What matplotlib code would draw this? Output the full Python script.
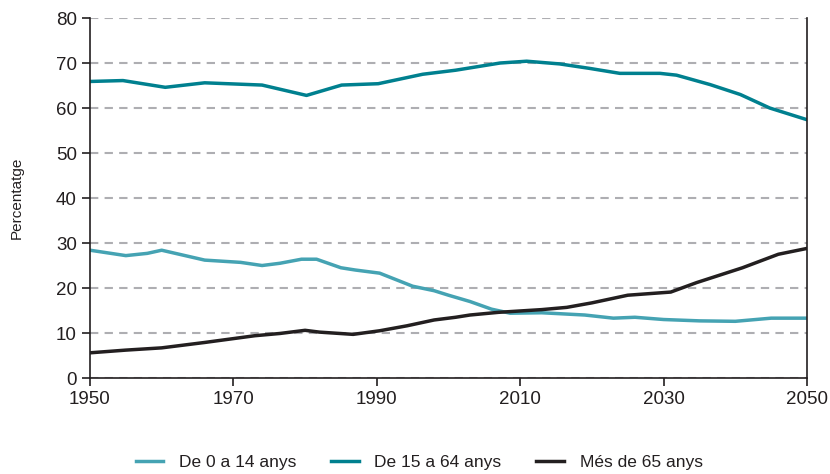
import numpy as np
import matplotlib.pyplot as plt

plt.rcParams['font.family'] = ['Liberation Sans', 'DejaVu Sans']

# Dades llegides del grafic
anys_jove = [1950, 1955, 1958, 1960, 1966, 1971, 1974, 1976.5, 1979.5, 1981.6, 1985, 1987, 1990.4,
             1992.3, 1995, 1998, 2000, 2003, 2006, 2008.6, 2013, 2019, 2023, 2026, 2030, 2035, 2040, 2045, 2050]
jove = [28.4, 27.2, 27.7, 28.4, 26.2, 25.7, 25.0, 25.5, 26.4, 26.4, 24.5, 24.0, 23.3,
        22.1, 20.4, 19.4, 18.4, 17.0, 15.3, 14.4, 14.5, 14.0, 13.3, 13.5, 13.0, 12.7, 12.6, 13.3, 13.3]

anys_adult = [1950, 1954.6, 1960.5, 1966, 1974, 1980.2, 1985.1, 1990.2, 1996.4, 2001, 2007.2, 2010.9,
              2015.5, 2019.7, 2023.9, 2029.5, 2031.8, 2036.5, 2040.7, 2044.8, 2050]
adult = [65.9, 66.1, 64.6, 65.6, 65.1, 62.8, 65.1, 65.4, 67.5, 68.4, 70.0, 70.4,
         69.8, 68.8, 67.7, 67.7, 67.3, 65.2, 63.0, 60.0, 57.4]

anys_gran = [1950, 1955, 1960, 1966, 1973, 1976.5, 1980, 1982, 1986.7, 1990.4, 1994.2, 1998, 2001,
             2003, 2007, 2013, 2016.5, 2020, 2025, 2031, 2034.6, 2041, 2046, 2050]
gran = [5.6, 6.2, 6.7, 7.9, 9.4, 9.9, 10.6, 10.2, 9.7, 10.5, 11.6, 12.9, 13.5,
        14.0, 14.6, 15.2, 15.7, 16.7, 18.4, 19.1, 21.2, 24.5, 27.5, 28.8]

fig = plt.figure(figsize=(8.3, 4.74), dpi=100)
ax = fig.add_axes([0.1084, 0.2025, 0.8639, 0.7595])

ax.yaxis.grid(True, color='#aeaeb2', linestyle=(0, (4, 3)), linewidth=1.5)
ax.set_axisbelow(True)

ax.plot(anys_jove, jove, color='#45a3b3', lw=2.5, label='De 0 a 14 anys')
ax.plot(anys_adult, adult, color='#00808f', lw=2.5, label='De 15 a 64 anys')
ax.plot(anys_gran, gran, color='#231f20', lw=2.5, label='Més de 65 anys')

ax.set_xlim(1950, 2050)
ax.set_ylim(0, 80)
ax.set_xticks([1950, 1970, 1990, 2010, 2030, 2050])
ax.set_yticks(range(0, 81, 10))
ax.tick_params(axis='both', labelsize=13.5, length=6, width=1.2, color='#231f20', labelcolor='#231f20')
ax.spines['top'].set_visible(False)
for s in ['left', 'right', 'bottom']:
    ax.spines[s].set_linewidth(1.2)
    ax.spines[s].set_color('#231f20')
ax.set_ylabel('Percentatge', fontsize=11, color='#231f20')
ax.yaxis.set_label_coords(-0.092, 0.5)

fig.legend(loc='lower center', bbox_to_anchor=(0.505, -0.025), ncol=3, frameon=False,
           fontsize=12.5, handlelength=1.6, handletextpad=0.9, columnspacing=2.0, labelcolor='#231f20')

fig.savefig('out.png', dpi=100)
